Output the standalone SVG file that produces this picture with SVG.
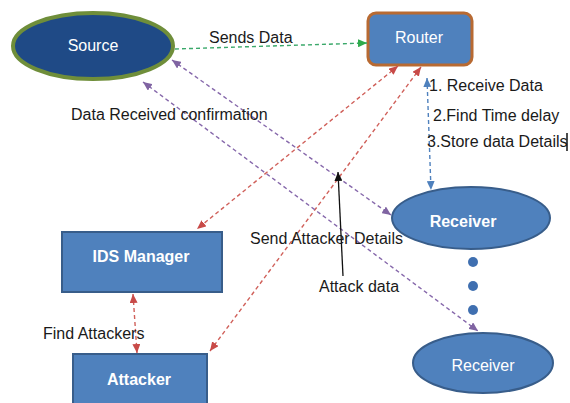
<svg xmlns="http://www.w3.org/2000/svg" width="570" height="403" viewBox="0 0 570 403">
<defs>
<style>
text{font-family:"Liberation Sans",Arial,sans-serif;font-size:16px;fill:#1a1a1a}
.w{fill:#ffffff}
.b{font-weight:bold}
.m{text-anchor:middle}
.node{fill:#4f81bd;stroke:#385d8a;stroke-width:2}
.c{fill:none;stroke-width:1.4;stroke-dasharray:4 3}
.g{stroke:#3aa86a}
.r{stroke:#d0605a}
.p{stroke:#8668ab}
.bl{stroke:#4f81bd}
</style>
<marker id="ag" markerUnits="userSpaceOnUse" markerWidth="9" markerHeight="8" refX="9" refY="4" orient="auto-start-reverse"><path d="M0,0L9,4L0,8z" fill="#2eaa4a"/></marker>
<marker id="ar" markerUnits="userSpaceOnUse" markerWidth="9" markerHeight="8" refX="9" refY="4" orient="auto-start-reverse"><path d="M0,0L9,4L0,8z" fill="#c84a48"/></marker>
<marker id="ap" markerUnits="userSpaceOnUse" markerWidth="9" markerHeight="8" refX="9" refY="4" orient="auto-start-reverse"><path d="M0,0L9,4L0,8z" fill="#8064a2"/></marker>
<marker id="ab" markerUnits="userSpaceOnUse" markerWidth="9" markerHeight="8" refX="9" refY="4" orient="auto-start-reverse"><path d="M0,0L9,4L0,8z" fill="#4f81bd"/></marker>
<marker id="ak" markerUnits="userSpaceOnUse" markerWidth="9" markerHeight="8" refX="9" refY="4" orient="auto-start-reverse"><path d="M0,0L9,4L0,8z" fill="#111111"/></marker>
</defs>
<rect width="570" height="403" fill="#ffffff"/>

<g id="source">
<ellipse cx="93" cy="46" rx="80" ry="33" fill="#1f4a86" stroke="#6f8e3a" stroke-width="4"/>
<text class="w m" x="93" y="51">Source</text>
</g>
<g id="router">
<rect x="368" y="13" width="104" height="52" rx="8" fill="#4f81bd" stroke="#b86a32" stroke-width="3"/>
<text class="w m" x="419" y="43">Router</text>
</g>
<g id="receiver1">
<ellipse class="node" cx="471" cy="218" rx="79" ry="31"/>
<text class="w m b" x="463" y="227">Receiver</text>
</g>
<g id="dots">
<circle cx="473" cy="262" r="5" fill="#3f6fb0"/>
<circle cx="473" cy="286" r="5" fill="#3f6fb0"/>
<circle cx="473" cy="310" r="5" fill="#3f6fb0"/>
</g>
<g id="receiver2">
<ellipse class="node" cx="483" cy="363" rx="70" ry="30"/>
<text class="w m" x="483" y="371">Receiver</text>
</g>
<g id="ids-manager">
<rect class="node" x="62" y="232" width="160" height="60"/>
<text class="w m b" x="141" y="262">IDS Manager</text>
</g>
<g id="attacker">
<rect class="node" x="73" y="354" width="134" height="60"/>
<text class="w m b" x="139" y="385">Attacker</text>
</g>

<g id="connectors">
<line class="c g" x1="175" y1="49" x2="367" y2="43" marker-end="url(#ag)"/>
<line class="c r" x1="398" y1="66" x2="197" y2="229" marker-start="url(#ar)" marker-end="url(#ar)"/>
<line class="c r" x1="421" y1="67" x2="210" y2="351" marker-start="url(#ar)" marker-end="url(#ar)"/>
<line class="c p" x1="172" y1="60" x2="391" y2="215" marker-start="url(#ap)" marker-end="url(#ap)"/>
<line class="c p" x1="143" y1="82" x2="478" y2="331" marker-start="url(#ap)" marker-end="url(#ap)"/>
<line class="c bl" x1="427" y1="78" x2="431" y2="190" marker-start="url(#ab)" marker-end="url(#ab)"/>
<line class="c r" x1="133" y1="294" x2="137" y2="353" marker-start="url(#ar)" marker-end="url(#ar)"/>
<line x1="343" y1="276" x2="338" y2="172" stroke="#111111" stroke-width="1.3" marker-end="url(#ak)"/>
</g>

<g id="labels">
<text x="209" y="43">Sends Data</text>
<text x="71" y="120">Data Received confirmation</text>
<text x="429" y="91">1. Receive Data</text>
<text x="433" y="121">2.Find Time delay</text>
<text x="427" y="147">3.Store data Details</text>
<line x1="567" y1="133" x2="567" y2="151" stroke="#111111" stroke-width="1.5"/>
<text x="250" y="244">Send Attacker Details</text>
<text x="319" y="292">Attack data</text>
<text x="43" y="339">Find Attackers</text>
</g>
</svg>
